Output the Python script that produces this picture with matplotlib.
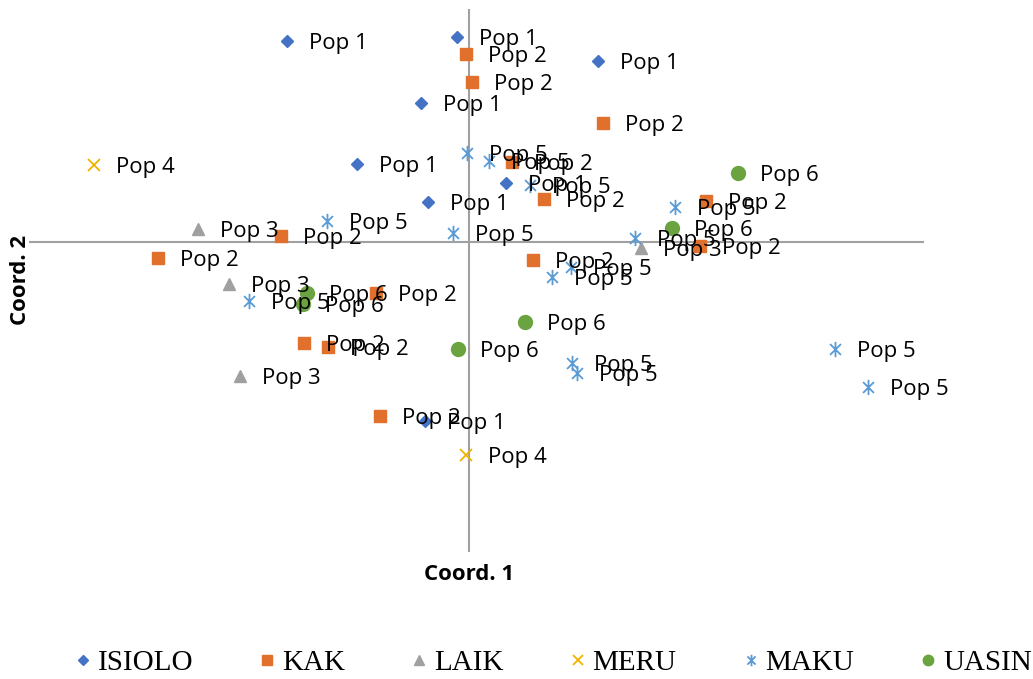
import matplotlib.pyplot as plt
from matplotlib.path import Path
from matplotlib.lines import Line2D

# PCoA coordinates per collection site, with population tags
isiolo_x = [-1.82, -0.12, 1.29, -0.48, -1.12, 0.37, -0.41, -0.44]
isiolo_y = [2.01, 2.05, 1.81, 1.39, 0.78, 0.59, 0.40, -1.79]
isiolo_pop = ["Pop 1"] * 8

kak_x = [-0.03, 0.03, 1.34, 0.43, 0.75, 2.37, -1.88, -3.11, 0.64, 2.31, -0.93, -1.65, -1.41, -0.89]
kak_y = [1.88, 1.60, 1.19, 0.80, 0.43, 0.41, 0.06, -0.16, -0.18, -0.04, -0.51, -1.01, -1.05, -1.74]
kak_pop = ["Pop 2"] * 14

laik_x = [-2.71, -2.40, -2.29, 1.72]
laik_y = [0.13, -0.42, -1.34, -0.06]
laik_pop = ["Pop 3"] * 4

meru_x = [-3.75, -0.03]
meru_y = [0.77, -2.13]
meru_pop = ["Pop 4"] * 2

maku_x = [-0.02, 0.20, 0.61, -1.42, -0.16, 2.06, 1.66, -2.20, 0.83, 1.02, 1.03, 1.08, 3.66, 3.99]
maku_y = [0.89, 0.81, 0.57, 0.21, 0.09, 0.35, 0.04, -0.59, -0.35, -0.25, -1.21, -1.31, -1.07, -1.45]
maku_pop = ["Pop 5"] * 14

uasin_x = [2.69, 2.03, -1.62, -1.66, 0.56, -0.11]
uasin_y = [0.69, 0.14, -0.51, -0.62, -0.80, -1.07]
uasin_pop = ["Pop 6"] * 6

# asterisk marker: an x with a vertical stroke
star = Path([(-0.5, -0.5), (0.5, 0.5), (-0.5, 0.5), (0.5, -0.5), (0, -0.7), (0, 0.7)],
            [Path.MOVETO, Path.LINETO, Path.MOVETO, Path.LINETO, Path.MOVETO, Path.LINETO])

groups = [
    ("ISIOLO", isiolo_x, isiolo_y, isiolo_pop, dict(marker="D", color="#4472C4", ms=6.5)),
    ("KAK", kak_x, kak_y, kak_pop, dict(marker="s", color="#E0702C", ms=9)),
    ("LAIK", laik_x, laik_y, laik_pop, dict(marker="^", color="#A0A0A0", ms=9)),
    ("MERU", meru_x, meru_y, meru_pop, dict(marker="x", color="#F0B400", ms=9, mew=1.3)),
    ("MAKU", maku_x, maku_y, maku_pop, dict(marker=star, color="#5B9BD5", ms=11, mew=1.3)),
    ("UASIN", uasin_x, uasin_y, uasin_pop, dict(marker="o", color="#6AA340", ms=10)),
]

fig = plt.figure(figsize=(10.33, 6.79), dpi=100)
ax = fig.add_axes([29 / 1033, 1 - 552 / 679, 895 / 1033, 543 / 679])
ax.set_xlim(-4.40, 4.55)
ax.set_ylim(-3.10, 2.33)
ax.axhline(0, color="#A0A0A0", lw=1.5, zorder=1)
ax.axvline(0, color="#A0A0A0", lw=1.5, zorder=1)
for s in ax.spines.values():
    s.set_visible(False)
ax.set_xticks([])
ax.set_yticks([])

handles = []
for name, xs, ys, pops, style in groups:
    ax.plot(xs, ys, linestyle="none", zorder=3, **style)
    for x, y, p in zip(xs, ys, pops):
        ax.annotate(p, (x, y), xytext=(16, -1.5), textcoords="offset points",
                    va="center", ha="left", fontsize=16, family="Open Sans", zorder=4)
    lg = dict(style)
    lg["ms"] = style["ms"] * 0.75
    handles.append(Line2D([], [], linestyle="none", label=name, **lg))

fig.text(469 / 1033, 1 - 575 / 679, "Coord. 1", ha="center", va="center",
         fontsize=16, fontweight="bold", family="Open Sans")
fig.text(21 / 1033, 1 - 280 / 679, "Coord. 2", ha="center", va="center", rotation=90,
         fontsize=16, fontweight="bold", family="Open Sans")

fig.legend(handles=handles, loc="center", bbox_to_anchor=(0.536, 1 - 663 / 679), ncol=6,
           frameon=False, prop={"family": "Liberation Serif", "size": 21},
           handlelength=0.5, handletextpad=0.25, columnspacing=2.3, borderpad=0)

fig.savefig("out.png", dpi=100)
